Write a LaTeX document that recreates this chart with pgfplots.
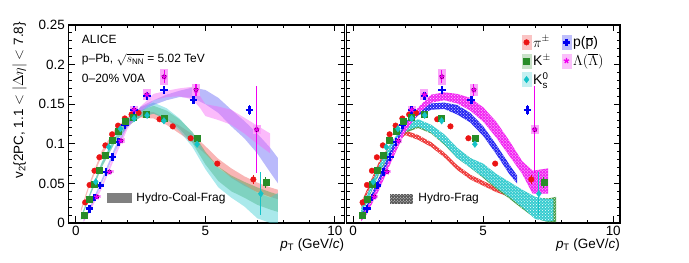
\documentclass[border=0pt]{standalone}
\usepackage{pgfplots}
\pgfplotsset{compat=1.18}
\usepackage{pgfplotstable}
\usepackage{fontspec}
\setmainfont{Liberation Sans}
\usetikzlibrary{patterns}

\definecolor{cpi}{RGB}{235,20,20}
\definecolor{cK}{RGB}{40,140,40}
\definecolor{cKs}{RGB}{20,195,200}
\definecolor{cp}{RGB}{0,0,240}
\definecolor{cL}{RGB}{240,0,240}

\pgfplotstableread{
x y e
0.36 0.026 0.001
0.53 0.048 0.001
0.72 0.066 0.001
0.91 0.083 0.001
1.14 0.098 0.001
1.40 0.112 0.001
1.63 0.123 0.001
1.89 0.132 0.001
2.15 0.137 0.001
2.42 0.139 0.001
3.23 0.131 0.002
3.74 0.122 0.002
4.43 0.107 0.002
5.46 0.075 0.003
6.85 0.055 0.006
}\pion

\pgfplotstableread{
x y e
0.33 0.010 0.001
0.52 0.030 0.001
0.72 0.049 0.001
0.91 0.067 0.001
1.15 0.086 0.001
1.40 0.105 0.001
1.65 0.116 0.001
1.91 0.128 0.002
2.22 0.134 0.002
2.73 0.137 0.002
3.40 0.132 0.002
4.68 0.107 0.003
7.33 0.051 0.007
}\kaon

\pgfplotstableread{
x y e
0.77 0.052 0.001
1.27 0.096 0.002
1.72 0.119 0.002
2.25 0.132 0.002
2.75 0.136 0.002
3.40 0.129 0.003
4.68 0.0995 0.004
7.14 0.037 0.027
}\kzero

\pgfplotstableread{
x y e
0.53 0.018 0.001
0.72 0.032 0.001
0.94 0.0476 0.001
1.17 0.0645 0.001
1.41 0.0835 0.001
1.65 0.1025 0.002
1.90 0.1235 0.002
2.25 0.1425 0.002
2.74 0.1606 0.002
3.41 0.168 0.003
4.54 0.155 0.004
6.70 0.1425 0.006
}\proton

\pgfplotstableread{
x y e s
0.81 0.033 0.001 0.002
1.30 0.0645 0.001 0.002
1.74 0.1037 0.002 0.003
2.25 0.143 0.003 0.005
2.74 0.162 0.004 0.007
3.41 0.1847 0.008 0.010
4.64 0.168 0.008 0.008
6.98 0.118 0.055 0.006
}\lambdaT

\pgfplotsset{
  myaxis/.style={
    scale only axis, height=198bp,
    ymin=0, ymax=0.25,
    xtick={0,5,10}, minor x tick num=4,
    ytick={0,0.05,0.1,0.15,0.2,0.25}, minor y tick num=4,
    tick align=inside, scaled ticks=false,
    major tick length=6.5bp, minor tick length=3.3bp,
    axis line style={line width=1.2bp},
    every tick/.style={black, line width=1bp},
    tick label style={font=\fontsize{13.5}{16}\selectfont},
    /pgf/number format/assume math mode=true,
    yticklabel style={/pgf/number format/fixed},
    label style={font=\fontsize{13.5}{16}\selectfont},
    xlabel={\textit{p}\textsubscript{T} (GeV/\textit{c})},
    xlabel style={at={(axis description cs:1,-0.127)}, anchor=base east, inner sep=0pt},
  },
  legbox/.style={legend image code/.code={\fill[#1] (-4.5bp,-7bp) rectangle (4.5bp,7bp);
      \draw[mark repeat=2,mark phase=2] plot coordinates {(-4bp,0bp) (0bp,0bp) (4bp,0bp)};}},
  pistyle/.style={only marks, color=cpi, mark=*, mark size=2.8bp, error bars/.cd, y dir=both, y explicit, error bar style={line width=1bp}, error mark=none},
  kstyle/.style={only marks, color=cK, mark=square*, mark size=3bp, error bars/.cd, y dir=both, y explicit, error bar style={line width=1bp}, error mark=none},
  k0style/.style={only marks, color=cKs, mark=diamond*, mark size=3.3bp, error bars/.cd, y dir=both, y explicit, error bar style={line width=1bp}, error mark=none},
  pstyle/.style={only marks, color=cp, mark=+, mark size=3.8bp, mark options={line width=2.5bp}, error bars/.cd, y dir=both, y explicit, error bar style={line width=1bp}, error mark=none},
  lstyle/.style={only marks, color=cL, mark=star, mark size=2.8bp, mark options={line width=1.3bp}, error bars/.cd, y dir=both, y explicit, error bar style={line width=1.2bp}, error mark=none},
  sysL/.style={only marks, mark=none, forget plot, error bars/.cd, y dir=both, y explicit, error bar style={draw=cL!35, line width=8bp}, error mark=none},
  bandL/.style={draw=none, fill=#1, fill opacity=0.45, forget plot},
  bandR/.style={draw=none, fill=#1, forget plot, postaction={pattern=crosshatch dots, pattern color=white}},
}

\begin{document}
\begin{tikzpicture}
\path[use as bounding box] (-68.3bp,-40bp) rectangle (620.7bp,223bp);

% ---------------- left panel ----------------
\begin{axis}[myaxis, at={(0bp,0bp)}, anchor=south west, width=276bp,
  xmin=-0.29, xmax=10.36,
  ylabel={v\textsubscript{2}\{2PC, 1.1 $<$ $|\Delta\eta|$ $<$ 7.8\}},
  ylabel style={at={(axis description cs:-0.150,1.015)}, anchor=south east, inner sep=0pt},
]
\addplot[bandL=cpi!70] coordinates {(0.2,0.018)(0.5,0.048)(1.0,0.091)(1.5,0.118)(2.0,0.134)(2.5,0.141)(3.0,0.140)(3.5,0.132)(4.0,0.123)(4.5,0.112)(5.0,0.097)(5.5,0.081)(6.0,0.069)(6.5,0.059)(7.0,0.051)(7.5,0.045)(7.8,0.042)
(7.8,0.030)(7.5,0.033)(7.0,0.039)(6.5,0.047)(6.0,0.057)(5.5,0.071)(5.0,0.087)(4.5,0.102)(4.0,0.113)(3.5,0.124)(3.0,0.132)(2.5,0.133)(2.0,0.126)(1.5,0.112)(1.0,0.085)(0.5,0.044)(0.2,0.014)} -- cycle;
\addplot[bandL=cK!80] coordinates {(0.2,.008)(0.5,.034)(1.0,.076)(1.5,.107)(2.0,.130)(2.5,.142)(3.0,.148)(3.5,.142)(4.0,.131)(4.5,.115)(5.0,.090)(5.5,.071)(6.0,.060)(6.5,.052)(7.0,.045)(7.5,.039)(7.8,.036)
(7.8,.014)(7.5,.017)(7.0,.023)(6.5,.032)(6.0,.040)(5.5,.053)(5.0,.074)(4.5,.101)(4.0,.119)(3.5,.132)(3.0,.138)(2.5,.134)(2.0,.122)(1.5,.101)(1.0,.070)(0.5,.030)(0.2,.004)} -- cycle;
\addplot[bandL=cKs!80] coordinates {(0.2,.008)(0.5,.034)(1.0,.077)(1.5,.109)(2.0,.132)(2.5,.146)(3.0,.152)(3.5,.145)(4.0,.132)(4.5,.114)(5.0,.088)(5.5,.069)(6.0,.058)(6.5,.049)(7.0,.038)(7.5,.032)(7.8,.038)
(7.8,0)(7.5,0)(7.0,.006)(6.5,.021)(6.0,.032)(5.5,.045)(5.0,.068)(4.5,.096)(4.0,.116)(3.5,.131)(3.0,.138)(2.5,.134)(2.0,.122)(1.5,.101)(1.0,.071)(0.5,.030)(0.2,.004)} -- cycle;
\addplot[bandL=cp!60] coordinates {(0.3,.006)(0.5,.017)(1.0,.055)(1.5,.095)(2.0,.128)(2.5,.147)(3.0,.155)(3.5,.162)(4.0,.167)(4.5,.171)(5.0,.168)(5.5,.158)(6.0,.143)(6.5,.129)(7.0,.113)(7.5,.095)(7.8,.082)
(7.8,.050)(7.5,.064)(7.0,.088)(6.5,.107)(6.0,.122)(5.5,.139)(5.0,.150)(4.5,.158)(4.0,.159)(3.5,.155)(3.0,.149)(2.5,.141)(2.0,.122)(1.5,.089)(1.0,.050)(0.5,.013)(0.3,.002)} -- cycle;
\addplot[bandL=cL!60] coordinates {(0.3,.005)(0.5,.016)(1.0,.048)(1.5,.088)(2.0,.125)(2.5,.147)(3.0,.163)(3.5,.167)(4.0,.170)(4.5,.172)(4.8,.160)(5.0,.150)(5.5,.147)(6.0,.143)(6.5,.133)(7.0,.123)(7.5,.113)
(7.5,.088)(7.0,.100)(6.5,.113)(6.0,.124)(5.5,.130)(5.0,.135)(4.8,.145)(4.5,.156)(4.0,.160)(3.5,.159)(3.0,.155)(2.5,.141)(2.0,.119)(1.5,.082)(1.0,.043)(0.5,.012)(0.3,.001)} -- cycle;

\addplot[sysL] table[x=x, y=y, y error=s] {\lambdaT};
\addplot[pistyle] table[x=x, y=y, y error=e] {\pion};
\addplot[pstyle] table[x=x, y=y, y error=e] {\proton};
\addplot[kstyle] table[x=x, y=y, y error=e] {\kaon};
\addplot[lstyle] table[x=x, y=y, y error=e] {\lambdaT};
\addplot[k0style] table[x=x, y=y, y error=e] {\kzero};

\node[anchor=west, inner sep=0pt, font=\fontsize{12}{14}\selectfont] at (axis cs:0.23,0.232) {ALICE};
\node[anchor=west, inner sep=0pt, font=\fontsize{12}{14}\selectfont] at (axis cs:0.23,0.206) {p--Pb, $\sqrt{s_{\mathrm{NN}}}$ = 5.02 TeV};
\node[anchor=west, inner sep=0pt, font=\fontsize{12}{14}\selectfont] at (axis cs:0.23,0.183) {0--20\% V0A};
\fill[gray] (axis cs:1.21,0.025) rectangle (axis cs:2.17,0.0375);
\node[anchor=west, inner sep=0pt, font=\fontsize{12}{14}\selectfont] at (axis cs:2.33,0.031) {Hydro-Coal-Frag};
\end{axis}

% ---------------- right panel ----------------
\begin{axis}[myaxis, at={(278.4bp,0bp)}, anchor=south west, width=273.3bp,
  xmin=-0.25, xmax=10.26, yticklabels={},
  legend columns=2,
  legend style={at={(rel axis cs:0.64,0.955)}, anchor=north west, draw=none, fill=none,
     font=\fontsize{14}{16}\selectfont, row sep=1.5bp, inner sep=0pt,
     /tikz/every even column/.append style={column sep=9bp}},
  legend cell align=left,
]
\addplot[bandR=cpi!85] coordinates {(0.3,.025)(0.5,.040)(1.0,.078)(1.5,.103)(2.0,.117)(2.5,.111)(3.0,.102)(3.5,.089)(4.0,.073)(4.5,.061)(5.0,.053)(5.5,.045)(6.0,.039)(6.5,.035)(7.0,.032)(7.5,.030)
(7.5,.024)(7.0,.026)(6.5,.029)(6.0,.033)(5.5,.039)(5.0,.047)(4.5,.055)(4.0,.067)(3.5,.083)(3.0,.096)(2.5,.105)(2.0,.111)(1.5,.097)(1.0,.072)(0.5,.034)(0.3,.019)} -- cycle;
\addplot[bandR=cK!85] coordinates {(0.3,.014)(0.5,.030)(1.0,.070)(1.5,.101)(2.0,.122)(2.5,.128)(3.0,.122)(3.5,.110)(4.0,.094)(4.5,.082)(5.0,.072)(5.5,.060)(6.0,.050)(6.5,.040)(7.0,.032)(7.5,.031)(7.8,.033)
(7.8,.001)(7.5,.001)(7.0,.006)(6.5,.018)(6.0,.031)(5.5,.043)(5.0,.057)(4.5,.070)(4.0,.082)(3.5,.099)(3.0,.113)(2.5,.120)(2.0,.114)(1.5,.093)(1.0,.062)(0.5,.024)(0.3,.008)} -- cycle;
\addplot[bandR=cKs!85] coordinates {(0.3,.018)(0.5,.033)(1.0,.073)(1.5,.104)(2.0,.124)(2.5,.131)(3.0,.124)(3.5,.112)(4.0,.095)(4.5,.082)(5.0,.075)(5.5,.062)(6.0,.052)(6.5,.042)(7.0,.033)(7.5,.030)(7.7,.030)
(7.7,.003)(7.5,.002)(7.0,.005)(6.5,.020)(6.0,.033)(5.5,.045)(5.0,.058)(4.5,.070)(4.0,.082)(3.5,.100)(3.0,.114)(2.5,.122)(2.0,.116)(1.5,.095)(1.0,.064)(0.5,.025)(0.3,.010)} -- cycle;
\addplot[bandR=cp!85] coordinates {(0.3,.010)(0.5,.021)(1.0,.058)(1.5,.096)(2.0,.127)(2.5,.144)(3.0,.151)(3.5,.152)(4.0,.149)(4.5,.139)(5.0,.122)(5.5,.099)(6.0,.074)(6.3,.060)
(6.3,.050)(6.0,.062)(5.5,.087)(5.0,.110)(4.5,.127)(4.0,.137)(3.5,.144)(3.0,.143)(2.5,.136)(2.0,.119)(1.5,.088)(1.0,.050)(0.5,.014)(0.3,.004)} -- cycle;
\addplot[bandR=cL!85] coordinates {(0.3,.008)(0.5,.017)(1.0,.050)(1.5,.088)(2.0,.123)(2.5,.146)(3.0,.162)(3.5,.165)(4.0,.163)(4.5,.158)(5.0,.146)(5.5,.128)(6.0,.104)(6.5,.078)(6.9,.066)(7.5,.069)
(7.5,.037)(6.9,.037)(6.5,.062)(6.0,.085)(5.5,.108)(5.0,.128)(4.5,.142)(4.0,.151)(3.5,.155)(3.0,.152)(2.5,.138)(2.0,.115)(1.5,.080)(1.0,.042)(0.5,.010)(0.3,.002)} -- cycle;

\addplot[sysL] table[x=x, y=y, y error=s] {\lambdaT};
\addplot[legbox=cpi!25, pistyle] table[x=x, y=y, y error=e] {\pion};
\addlegendentry{$\pi^{\pm}$}
\addplot[legbox=cp!25, pstyle] table[x=x, y=y, y error=e] {\proton};
\addlegendentry{p($\overline{\mbox{p}}$)}
\addplot[legbox=cK!25, kstyle] table[x=x, y=y, y error=e] {\kaon};
\addlegendentry{K$^{\pm}$}
\addplot[legbox=cL!25, lstyle] table[x=x, y=y, y error=e] {\lambdaT};
\addlegendentry{$\Lambda(\overline{\Lambda})$}
\addplot[legbox=cKs!25, k0style] table[x=x, y=y, y error=e] {\kzero};
\addlegendentry{K$^{\mathrm{0}}_{\mathrm{s}}$}

\fill[black!65, postaction={pattern=crosshatch dots, pattern color=white}] (axis cs:1.41,0.0245) rectangle (axis cs:2.31,0.037);
\node[anchor=west, inner sep=0pt, font=\fontsize{12}{14}\selectfont] at (axis cs:2.5,0.031) {Hydro-Frag};
\end{axis}
\end{tikzpicture}
\end{document}
